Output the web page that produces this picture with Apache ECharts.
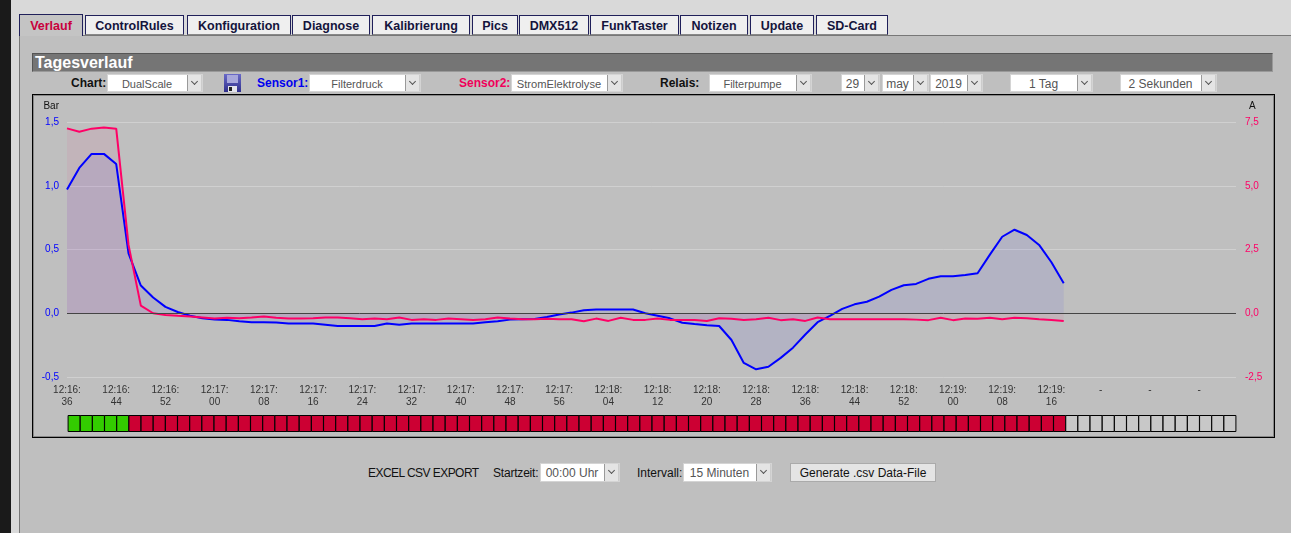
<!DOCTYPE html>
<html>
<head>
<meta charset="utf-8">
<script src="https://cdn.jsdelivr.net/npm/echarts@6/dist/echarts.min.js"></script>
<style>
html,body{margin:0;padding:0;width:1291px;height:533px;overflow:hidden;background:#bfbfbf;font-family:"Liberation Sans",Arial,sans-serif;}
.abs{position:absolute;}
.tab{position:absolute;top:15px;height:18px;line-height:20px;background:#efefef;border:1px solid #20205a;border-bottom:1px solid #888;box-sizing:content-box;text-align:center;font-weight:bold;font-size:12.5px;color:#14143c;}
.lbl{position:absolute;top:75px;height:17px;line-height:17px;font-size:12px;font-weight:bold;white-space:nowrap;}
.sel{position:absolute;height:18px;line-height:18px;background:#fff;border:1px solid #d4d4d4;box-sizing:border-box;font-size:12px;color:#555;white-space:nowrap;}
.sel.narrow{font-size:11px;}
.sel span{display:block;text-align:center;margin-right:16px;}
.sel i{position:absolute;right:0;top:0;bottom:0;width:15px;background:#e4e4e4;border-left:1px solid #9a9a9a;border-right:1px solid #ccc;box-sizing:border-box;}
.sel i:after{content:"";position:absolute;left:4px;top:4px;width:4px;height:4px;border-right:1px solid #555;border-bottom:1px solid #555;transform:rotate(45deg);}
.txt{position:absolute;top:465px;line-height:16px;font-size:12px;color:#111;white-space:nowrap;}
</style>
</head>
<body>
<div class="abs" style="left:0;top:0;width:11px;height:533px;background:#1a1a1a"></div>
<div class="abs" style="left:11px;top:0;width:1280px;height:36px;background:#d9d9d9"></div>
<div class="abs" style="left:11px;top:36px;width:8px;height:497px;background:#d9d9d9"></div>
<div class="abs" style="left:19px;top:35px;width:1272px;height:1px;background:#777"></div>
<div class="abs" style="left:19px;top:36px;width:1px;height:497px;background:#777"></div>

<div class="tab" style="left:19px;width:62px;top:14px;height:21px;line-height:23px;background:#c4c4c4;color:#c8003c;border-bottom:none">Verlauf</div>
<div class="tab" style="left:85px;width:97px">ControlRules</div>
<div class="tab" style="left:187px;width:102px">Konfiguration</div>
<div class="tab" style="left:292px;width:76px">Diagnose</div>
<div class="tab" style="left:372px;width:96px">Kalibrierung</div>
<div class="tab" style="left:472px;width:44px">Pics</div>
<div class="tab" style="left:519px;width:68px">DMX512</div>
<div class="tab" style="left:590px;width:87px">FunkTaster</div>
<div class="tab" style="left:680px;width:66px">Notizen</div>
<div class="tab" style="left:750px;width:62px">Update</div>
<div class="tab" style="left:816px;width:70px">SD-Card</div>

<div class="abs" style="left:32px;top:53px;width:1241px;height:19px;box-sizing:border-box;background:#757575;border:1px solid #555;border-bottom-color:#999;border-right-color:#999;color:#fff;font-weight:bold;font-size:16px;line-height:18px;padding-left:2px">Tagesverlauf</div>

<div class="lbl" style="left:71px;color:#111">Chart:</div>
<div class="sel narrow" style="left:107px;top:74px;width:96px"><span>DualScale</span><i></i></div>
<svg class="abs" style="left:224px;top:74px" width="17" height="18" viewBox="0 0 17 18">
  <defs><linearGradient id="fd" x1="0" y1="0" x2="0" y2="1"><stop offset="0" stop-color="#6a6ac8"/><stop offset="1" stop-color="#30308c"/></linearGradient></defs>
  <rect x="0" y="0" width="17" height="18" fill="url(#fd)"/>
  <rect x="3" y="1" width="11" height="8" fill="#a8a8dc"/>
  <rect x="4" y="12" width="9" height="6" fill="#e4e4ec"/>
  <rect x="5" y="13" width="3" height="4" fill="#222"/>
</svg>
<div class="lbl" style="left:257px;color:#0000ee">Sensor1:</div>
<div class="sel narrow" style="left:309px;top:74px;width:112px"><span>Filterdruck</span><i></i></div>
<div class="lbl" style="left:459px;color:#f0005a">Sensor2:</div>
<div class="sel" style="left:511px;top:74px;width:112px;font-size:11.2px"><span>StromElektrolyse</span><i></i></div>
<div class="lbl" style="left:660px;color:#111">Relais:</div>
<div class="sel narrow" style="left:709px;top:74px;width:103px"><span>Filterpumpe</span><i></i></div>
<div class="sel" style="left:841px;top:74px;width:39px"><span>29</span><i></i></div>
<div class="sel" style="left:882px;top:74px;width:47px"><span>may</span><i></i></div>
<div class="sel" style="left:930px;top:74px;width:53px"><span>2019</span><i></i></div>
<div class="sel" style="left:1010px;top:74px;width:83px"><span>1 Tag</span><i></i></div>
<div class="sel" style="left:1120px;top:74px;width:97px"><span>2 Sekunden</span><i></i></div>

<div class="abs" style="left:32px;top:94px;width:1243px;height:344px;box-sizing:border-box;border:1px solid #000;box-shadow:inset 0 0 0 1px #888"></div>
<div id="chart" class="abs" style="left:34px;top:96px;width:1239px;height:340px"></div>

<div class="txt" style="left:368px;letter-spacing:-0.55px">EXCEL CSV EXPORT</div>
<div class="txt" style="left:493px;letter-spacing:-0.2px">Startzeit:</div>
<div class="sel" style="left:540px;top:463px;width:80px;height:19px"><span>00:00 Uhr</span><i></i></div>
<div class="txt" style="left:637px">Intervall:</div>
<div class="sel" style="left:683px;top:463px;width:89px;height:19px"><span>15 Minuten</span><i></i></div>
<div class="abs" style="left:790px;top:463px;width:146px;height:19px;line-height:18px;box-sizing:border-box;background:#e4e4e4;border:1px solid #aaa;text-align:center;font-size:12px;color:#111">Generate .csv Data-File</div>

<script>
// 2 second samples, one label every 4th sample
const times = [
  '12:16:\n36','','','','12:16:\n44','','','','12:16:\n52','','','',
  '12:17:\n00','','','','12:17:\n08','','','','12:17:\n16','','','',
  '12:17:\n24','','','','12:17:\n32','','','','12:17:\n40','','','',
  '12:17:\n48','','','','12:17:\n56','','','','12:18:\n04','','','',
  '12:18:\n12','','','','12:18:\n20','','','','12:18:\n28','','','',
  '12:18:\n36','','','','12:18:\n44','','','','12:18:\n52','','','',
  '12:19:\n00','','','','12:19:\n08','','','','12:19:\n16','','','',
  '-','','','','-','','','','-','','',''
];
const filterdruck = [
  0.97,1.14,1.25,1.25,1.17,0.47,0.217,0.123,0.05,0.01,
  -0.02,-0.04,-0.05,-0.052,-0.063,-0.07,-0.07,-0.073,-0.08,-0.08,
  -0.08,-0.09,-0.1,-0.1,-0.1,-0.1,-0.08,-0.09,-0.08,-0.08,
  -0.08,-0.08,-0.08,-0.08,-0.07,-0.063,-0.05,-0.047,-0.045,-0.03,
  -0.01,0.005,0.024,0.03,0.03,0.03,0.03,0.0,-0.02,-0.04,
  -0.075,-0.085,-0.094,-0.1,-0.21,-0.39,-0.44,-0.42,-0.35,-0.27,
  -0.167,-0.07,-0.02,0.034,0.07,0.09,0.13,0.183,0.22,0.23,
  0.27,0.29,0.29,0.30,0.314,0.46,0.60,0.655,0.614,0.536,
  0.40,0.235
];
const stromElektrolyse = [
  7.25,7.12,7.24,7.28,7.24,2.68,0.3,0,-0.065,-0.1,
  -0.13,-0.17,-0.21,-0.18,-0.2,-0.17,-0.13,-0.18,-0.21,-0.21,
  -0.2,-0.17,-0.17,-0.2,-0.235,-0.21,-0.235,-0.17,-0.26,-0.235,
  -0.26,-0.21,-0.235,-0.26,-0.235,-0.17,-0.21,-0.235,-0.235,-0.22,
  -0.235,-0.235,-0.31,-0.21,-0.3,-0.18,-0.26,-0.26,-0.21,-0.26,
  -0.26,-0.26,-0.3,-0.2,-0.22,-0.26,-0.235,-0.18,-0.27,-0.235,
  -0.3,-0.17,-0.235,-0.235,-0.235,-0.235,-0.235,-0.235,-0.235,-0.25,
  -0.27,-0.18,-0.27,-0.21,-0.22,-0.18,-0.235,-0.18,-0.2,-0.235,
  -0.26,-0.3
];
// 1 = relay on, 0 = relay off, null = no sample yet
const relais = [
  1,1,1,1,1,0,0,0,0,0,0,0,0,0,0,0,
  0,0,0,0,0,0,0,0,0,0,0,0,0,0,0,0,
  0,0,0,0,0,0,0,0,0,0,0,0,0,0,0,0,
  0,0,0,0,0,0,0,0,0,0,0,0,0,0,0,0,
  0,0,0,0,0,0,0,0,0,0,0,0,0,0,0,0,
  0,0,null,null,null,null,null,null,null,null,null,null,null,null,null,null
];

const commaFormat = v => v.toFixed(1).replace('.', ',');
const relaisColor = s => s === 1 ? '#33cc00' : s === 0 ? '#cc0033' : '#c8c8c8';

const chart = echarts.init(document.getElementById('chart'));
chart.setOption({
  animation: false,
  backgroundColor: '#bfbfbf',
  textStyle: { fontFamily: '"Liberation Sans", Arial, sans-serif' },
  grid: [
    { left: 33, top: 26, width: 1169, height: 255 },
    { left: 34, top: 319, width: 1168, height: 17 }
  ],
  xAxis: [
    {
      type: 'category', gridIndex: 0, data: times, boundaryGap: false,
      axisLine: { show: false, onZero: false }, axisTick: { show: false },
      axisLabel: { interval: 3, color: '#333', fontSize: 10, lineHeight: 12, margin: 7 }
    },
    {
      type: 'category', gridIndex: 1, data: times,
      axisLine: { show: false }, axisTick: { show: false }, axisLabel: { show: false }
    }
  ],
  yAxis: [
    {
      type: 'value', gridIndex: 0, min: -0.5, max: 1.5, interval: 0.5,
      name: 'Bar', nameGap: 11, nameLocation: 'end',
      nameTextStyle: { color: '#111', fontSize: 10, align: 'right', padding: [0, 8, 0, 0] },
      axisLine: { show: false }, axisTick: { show: false },
      axisLabel: { color: '#0000ff', fontSize: 10, margin: 8, formatter: commaFormat },
      splitLine: { lineStyle: { color: '#d0d0d0', width: 1 } }
    },
    {
      type: 'value', gridIndex: 0, position: 'right', min: -2.5, max: 7.5, interval: 2.5,
      name: 'A', nameGap: 11, nameLocation: 'end',
      nameTextStyle: { color: '#111', fontSize: 10, align: 'left', padding: [0, 0, 0, 13] },
      axisLine: { show: false }, axisTick: { show: false },
      axisLabel: { color: '#ff0066', fontSize: 10, margin: 9, formatter: commaFormat },
      splitLine: { show: false }
    },
    { type: 'value', gridIndex: 1, min: 0, max: 1, show: false }
  ],
  series: [
    {
      name: 'Filterdruck', type: 'line', xAxisIndex: 0, yAxisIndex: 0, data: filterdruck,
      showSymbol: false, lineStyle: { color: '#0000ff', width: 2 },
      areaStyle: { color: 'rgba(0,0,255,0.09)' },
      markLine: {
        silent: true, symbol: 'none', label: { show: false },
        lineStyle: { color: '#444', width: 1, type: 'solid' },
        data: [{ yAxis: 0 }]
      }
    },
    {
      name: 'StromElektrolyse', type: 'line', xAxisIndex: 0, yAxisIndex: 1, data: stromElektrolyse,
      showSymbol: false, lineStyle: { color: '#ff0066', width: 2 },
      areaStyle: { color: 'rgba(255,0,102,0.08)' }
    },
    {
      name: 'Relais', type: 'bar', xAxisIndex: 1, yAxisIndex: 2, barWidth: '100%', barCategoryGap: '0%',
      barMinWidth: 13,
      data: relais.map(s => ({
        value: 1,
        itemStyle: { color: relaisColor(s), borderColor: '#000', borderWidth: 1 }
      }))
    }
  ]
});
</script>
</body>
</html>
